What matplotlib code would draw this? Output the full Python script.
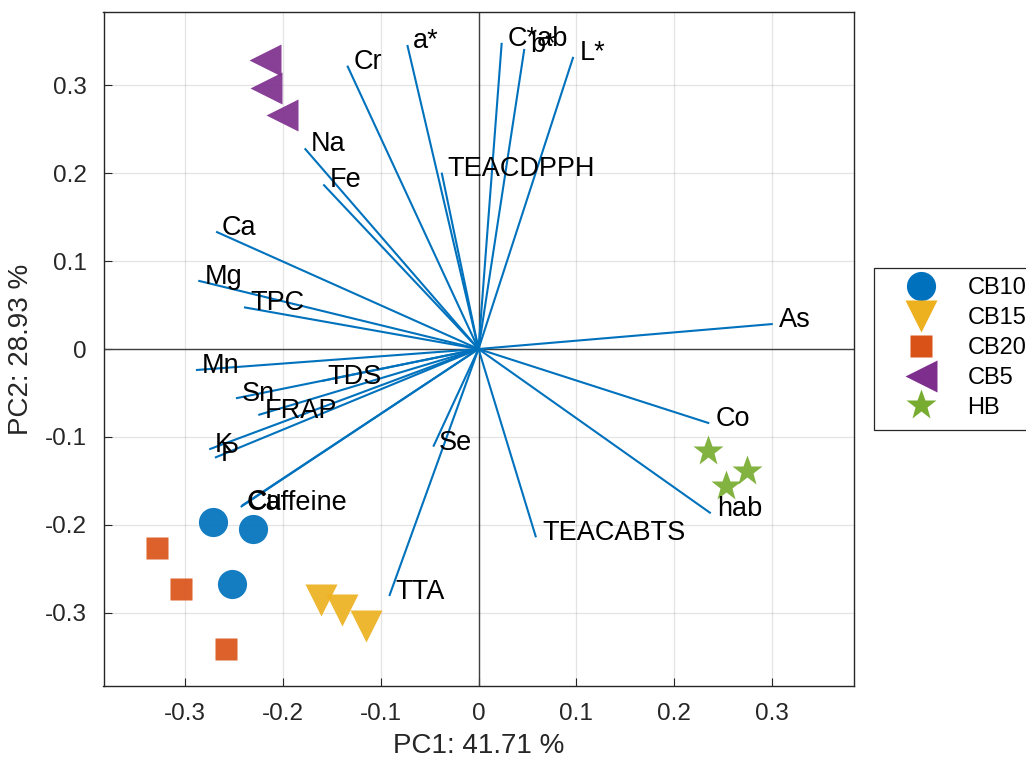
import matplotlib
matplotlib.use("Agg")
import matplotlib.pyplot as plt
from matplotlib.patches import Rectangle

plt.rcParams['font.family'] = ['Liberation Sans', 'DejaVu Sans']

# Loading vectors (PC1, PC2)
var_names = ["Cr", "a*", "C*ab", "b*", "L*", "Na", "Fe", "TEACDPPH", "Ca", "Mg",
             "TPC", "As", "Mn", "TDS", "Sn", "FRAP", "K", "P", "Cu", "Caffeine",
             "Se", "TTA", "TEACABTS", "Co", "hab"]
load_pc1 = [-0.134, -0.0727, 0.0237, 0.0468, 0.0968, -0.1775, -0.1585, -0.0376, -0.268, -0.2862,
            -0.2395, 0.3005, -0.2886, -0.160, -0.2477, -0.2249, -0.275, -0.2692, -0.2416, -0.2429,
            -0.0462, -0.0911, 0.0587, 0.2357, 0.2372]
load_pc2 = [0.322, 0.3455, 0.348, 0.341, 0.332, 0.228, 0.187, 0.2004, 0.1333, 0.0776,
            0.0474, 0.0284, -0.0239, -0.0364, -0.0560, -0.0750, -0.1140, -0.1235, -0.1780, -0.1795,
            -0.1110, -0.2807, -0.2140, -0.0844, -0.1867]

# Sample scores
groups = ["CB10", "CB15", "CB20", "CB5", "HB"]
score_pc1 = {
    "CB10": [-0.2712, -0.2300, -0.2518],
    "CB15": [-0.1604, -0.1397, -0.1151],
    "CB20": [-0.3284, -0.3042, -0.2576],
    "CB5": [-0.2176, -0.2167, -0.2002],
    "HB": [0.2341, 0.2740, 0.2528],
}
score_pc2 = {
    "CB10": [-0.1963, -0.2042, -0.2667],
    "CB15": [-0.2856, -0.2966, -0.3150],
    "CB20": [-0.2258, -0.2731, -0.3413],
    "CB5": [0.3284, 0.2963, 0.2663],
    "HB": [-0.1156, -0.1383, -0.1557],
}
xlabel = "PC1: 41.71 %"
ylabel = "PC2: 28.93 %"
ticks = [-0.3, -0.2, -0.1, 0, 0.1, 0.2, 0.3]
tick_labels = ["-0.3", "-0.2", "-0.1", "0", "0.1", "0.2", "0.3"]

styles = {
    "CB10": dict(marker="o", color="#0072BD", ms=21),
    "CB15": dict(marker="v", color="#EDB120", ms=23),
    "CB20": dict(marker="s", color="#D95319", ms=15.5),
    "CB5": dict(marker="<", color="#7E2F8E", ms=23),
    "HB": dict(marker="*", color="#77AC30", ms=23),
}

fig = plt.figure(figsize=(10.26, 7.65), dpi=100)
ax = fig.add_axes([103.5 / 1026, 1 - 686 / 765, 750 / 1026, 674 / 765])
lim = 0.383
ax.set_xlim(-lim, lim)
ax.set_ylim(-lim, lim)

ax.axhline(0, color="#404040", lw=1.0, zorder=1)
ax.axvline(0, color="#404040", lw=1.0, zorder=1)

for name, x, y in zip(var_names, load_pc1, load_pc2):
    ax.plot([0, x], [0, y], color="#0072BD", lw=1.5, zorder=2, solid_capstyle="butt")
    ax.annotate(name, (x, y), xytext=(4.3, 2.9), textcoords="offset points",
                ha="left", va="center", fontsize=19.5, color="black", zorder=4)

handles = []
for g in groups:
    st = styles[g]
    h, = ax.plot(score_pc1[g], score_pc2[g], linestyle="none", marker=st["marker"],
                 markersize=st["ms"], markerfacecolor=st["color"], markeredgecolor="none",
                 alpha=0.92, zorder=3, label=g)
    handles.append(h)

ax.set_xticks(ticks)
ax.set_xticklabels(tick_labels)
ax.set_yticks(ticks)
ax.set_yticklabels(tick_labels)
ax.tick_params(direction="in", length=6, width=0.8, colors="#262626", labelsize=17.5, pad=12)
ax.grid(True, color="#262626", alpha=0.12, lw=0.9)
ax.set_axisbelow(True)
for s in ax.spines.values():
    s.set_color("#262626")
    s.set_linewidth(1.0)
ax.set_xlabel(xlabel, fontsize=20, color="#262626", labelpad=6)
ax.set_ylabel(ylabel, fontsize=20, color="#262626", labelpad=8)

# legend frame extends past the right edge of the figure (clipped, as in the reference)
frame = Rectangle((874 / 1026, 1 - 430 / 765), 200 / 1026, 162 / 765,
                  transform=fig.transFigure, facecolor="white", edgecolor="#262626",
                  linewidth=0.9, zorder=5)
fig.add_artist(frame)
leg = fig.legend(handles=handles, labels=groups, loc="upper left",
                 bbox_to_anchor=(874 / 1026, 1 - 268 / 765), borderaxespad=0,
                 fontsize=17, frameon=False, labelspacing=0.33,
                 borderpad=0.4, handlelength=3.2, handletextpad=0.35)
leg.set_zorder(6)
for h in leg.legend_handles:
    h.set_alpha(1.0)

fig.savefig("out.png", dpi=100)
